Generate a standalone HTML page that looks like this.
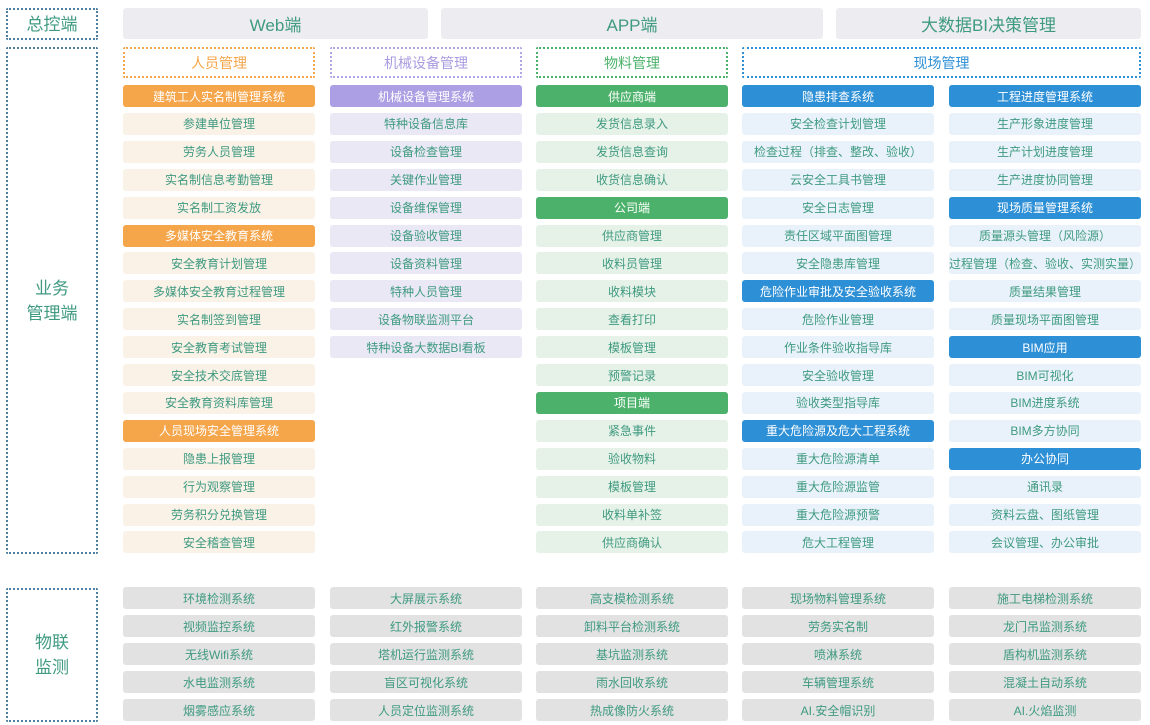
<!DOCTYPE html>
<html><head><meta charset="utf-8">
<style>
body{margin:0;width:1150px;height:725px;background:#fff;position:relative;overflow:hidden;font-family:"Liberation Sans","Noto Sans CJK SC",sans-serif;}
.b{position:absolute;box-sizing:border-box;display:flex;align-items:center;justify-content:center;border-radius:3px;color:#3f9a80;font-size:12px;white-space:nowrap;}
.top{background:#ededf1;font-size:17px;height:31px;top:8px;}
.side{border:2px dotted #4f7fa0;color:#3f9a80;font-size:17px;border-radius:2px;text-align:center;line-height:25px;}
.hd{top:47px;height:31px;font-size:14px;border:2px dotted;border-radius:2px;}
</style></head><body>
<div class="b side" style="left:6px;top:8px;width:92px;height:32px;">总控端</div>
<div class="b side" style="left:6px;top:47px;width:92px;height:507px;">业务<br>管理端</div>
<div class="b side" style="left:6px;top:588px;width:92px;height:134px;">物联<br>监测</div>
<div class="b top" style="left:123px;width:305px;">Web端</div>
<div class="b top" style="left:441px;width:382px;">APP端</div>
<div class="b top" style="left:836px;width:305px;">大数据BI决策管理</div>
<div class="b hd" style="left:123px;width:192px;border-color:#f5a54a;color:#f5a54a;">人员管理</div>
<div class="b hd" style="left:330px;width:192px;border-color:#b3a6e6;color:#a99be0;">机械设备管理</div>
<div class="b hd" style="left:536px;width:192px;border-color:#4cb26b;color:#4cb26b;">物料管理</div>
<div class="b hd" style="left:742px;width:399px;border-color:#2d8fd5;color:#2d8fd5;">现场管理</div>
<script>
const colX=[123,330,536,742,949];
const dark=['#f5a54a','#ad9fe3','#4cb26b','#2d8fd5','#2d8fd5'];
const light=['#faf1e7','#ebe8f6','#e6f2e8','#e9f2fa','#e9f2fa'];
const col1=['H建筑工人实名制管理系统','参建单位管理','劳务人员管理','实名制信息考勤管理','实名制工资发放','H多媒体安全教育系统','安全教育计划管理','多媒体安全教育过程管理','实名制签到管理','安全教育考试管理','安全技术交底管理','安全教育资料库管理','H人员现场安全管理系统','隐患上报管理','行为观察管理','劳务积分兑换管理','安全稽查管理'];
const col2=['H机械设备管理系统','特种设备信息库','设备检查管理','关键作业管理','设备维保管理','设备验收管理','设备资料管理','特种人员管理','设备物联监测平台','特种设备大数据BI看板'];
const col3=['H供应商端','发货信息录入','发货信息查询','收货信息确认','H公司端','供应商管理','收料员管理','收料模块','查看打印','模板管理','预警记录','H项目端','紧急事件','验收物料','模板管理','收料单补签','供应商确认'];
const col4=['H隐患排查系统','安全检查计划管理','检查过程（排查、整改、验收）','云安全工具书管理','安全日志管理','责任区域平面图管理','安全隐患库管理','H危险作业审批及安全验收系统','危险作业管理','作业条件验收指导库','安全验收管理','验收类型指导库','H重大危险源及危大工程系统','重大危险源清单','重大危险源监管','重大危险源预警','危大工程管理'];
const col5=['H工程进度管理系统','生产形象进度管理','生产计划进度管理','生产进度协同管理','H现场质量管理系统','质量源头管理（风险源）','过程管理（检查、验收、实测实量）','质量结果管理','质量现场平面图管理','HBIM应用','BIM可视化','BIM进度系统','BIM多方协同','H办公协同','通讯录','资料云盘、图纸管理','会议管理、办公审批'];
const iot=[['环境检测系统','视频监控系统','无线Wifi系统','水电监测系统','烟雾感应系统'],['大屏展示系统','红外报警系统','塔机运行监测系统','盲区可视化系统','人员定位监测系统'],['高支模检测系统','卸料平台检测系统','基坑监测系统','雨水回收系统','热成像防火系统'],['现场物料管理系统','劳务实名制','喷淋系统','车辆管理系统','AI.安全帽识别'],['施工电梯检测系统','龙门吊监测系统','盾构机监测系统','混凝土自动系统','AI.火焰监测']];
[col1,col2,col3,col4,col5].forEach((col,c)=>{
  col.forEach((t,r)=>{
    const d=document.createElement('div');
    const isH=t[0]==='H';
    d.className='b';
    d.textContent=isH?t.slice(1):t;
    d.style.cssText=`left:${colX[c]}px;top:${85+r*27.9}px;width:192px;height:22px;background:${isH?dark[c]:light[c]};color:${isH?'#fff':'#3f9a80'};`;
    
    
    document.body.appendChild(d);
  });
});
iot.forEach((col,c)=>{
  col.forEach((t,r)=>{
    const d=document.createElement('div');
    d.className='b';
    d.textContent=t;
    d.style.cssText=`left:${colX[c]}px;top:${587+r*28}px;width:192px;height:22px;background:#e2e2e2;`;
    
    
    document.body.appendChild(d);
  });
});
</script>
</body></html>
